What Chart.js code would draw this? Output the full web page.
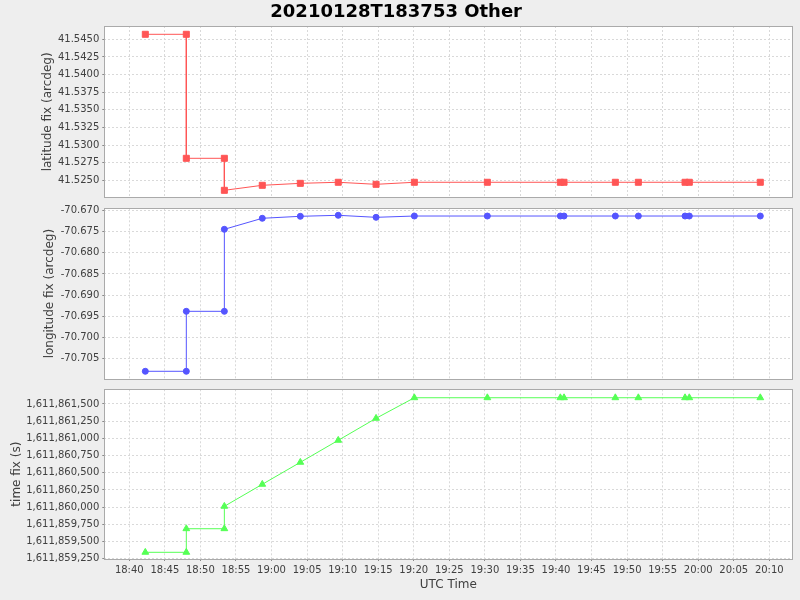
<!DOCTYPE html>
<html>
<head>
<meta charset="utf-8">
<script src="https://cdn.jsdelivr.net/npm/chart.js@4.4.1/dist/chart.umd.min.js"></script>
<style>
html,body{margin:0;padding:0;background:#eeeeee;}
#wrap{position:relative;width:800px;height:600px;background:#eeeeee;overflow:hidden;}
canvas{position:absolute;left:0;}
</style>
</head>
<body>
<div id="wrap">
<canvas id="cA" width="800" height="203" style="top:0px"></canvas>
<canvas id="cB" width="800" height="181" style="top:203px"></canvas>
<canvas id="cC" width="800" height="216" style="top:384px"></canvas>
</div>
<script>
// ---- data ----
const chartTitle = "20210128T183753 Other";
const obsTimes = ["18:42:15","18:48:01","18:48:01","18:53:22","18:53:22","18:58:42","19:04:03","19:09:23","19:14:42","19:20:05","19:30:21","19:40:37","19:41:08","19:48:21","19:51:35","19:58:09","19:58:45","20:08:44"];
const latitudeFix = [41.54571,41.54571,41.52812,41.52812,41.52358,41.52429,41.52457,41.52472,41.52443,41.52472,41.52472,41.52472,41.52472,41.52472,41.52472,41.52472,41.52472,41.52472];
const longitudeFix = [-70.70808,-70.70808,-70.69386,-70.69386,-70.67441,-70.67180,-70.67133,-70.67109,-70.67157,-70.67126,-70.67126,-70.67126,-70.67126,-70.67126,-70.67126,-70.67126,-70.67126,-70.67126];
const timeFix = [1611859343,1611859343,1611859686,1611859686,1611860012,1611860332,1611860652,1611860972,1611861292,1611861591,1611861591,1611861591,1611861591,1611861591,1611861591,1611861591,1611861591,1611861591];
const xTickLabels = ["18:40","18:45","18:50","18:55","19:00","19:05","19:10","19:15","19:20","19:25","19:30","19:35","19:40","19:45","19:50","19:55","20:00","20:05","20:10"];
const latTicks = [41.5250,41.5275,41.5300,41.5325,41.5350,41.5375,41.5400,41.5425,41.5450];
const lonTicks = [-70.705,-70.700,-70.695,-70.690,-70.685,-70.680,-70.675,-70.670];
const timeTicks = [1611859250,1611859500,1611859750,1611860000,1611860250,1611860500,1611860750,1611861000,1611861250,1611861500];

// ---- helpers ----
function toSec(s){const p=s.split(':').map(Number);return p[0]*3600+p[1]*60+(p[2]||0);}
function fmtHM(v){const h=Math.floor(v/3600),m=Math.round((v-h*3600)/60);return String(h).padStart(2,'0')+':'+String(m).padStart(2,'0');}
const xTickValues = xTickLabels.map(toSec);
const X_MIN = 66989, X_MAX = 72794;
const FONT = 'DejaVu Sans';
const GRID = '#d9d9d9';
const AXC = '#404040';

const frame = {
  id:'frame',
  beforeDraw(c){const a=c.chartArea,ctx=c.ctx;ctx.save();ctx.fillStyle='#ffffff';ctx.fillRect(a.left,a.top,a.right-a.left,a.bottom-a.top);ctx.restore();},
  afterDraw(c){const a=c.chartArea,ctx=c.ctx;ctx.save();ctx.strokeStyle='#aaaaaa';ctx.lineWidth=1;
    const l=Math.floor(a.left)+0.5,t=Math.floor(a.top)+0.5,r=Math.floor(a.right)+0.5,b=Math.floor(a.bottom)+0.5;
    ctx.strokeRect(l,t,r-l,b-t);ctx.restore();}
};

function xScale(showLabels){
  const s = {
    type:'linear', min:X_MIN, max:X_MAX,
    afterBuildTicks(sc){sc.ticks = xTickValues.map(v=>({value:v}));},
    grid:{color:GRID, drawTicks:showLabels, tickLength:2, tickColor:'#888888', tickBorderDash:[]},
    border:{display:false, dash:[2,2]},
    ticks:{display:showLabels, autoSkip:false, maxRotation:0, padding:3, color:AXC, font:{family:FONT,size:10}, callback:v=>fmtHM(v)}
  };
  if(showLabels){
    s.afterFit = sc=>{sc.height=41;sc.paddingLeft=0;sc.paddingRight=0;};
    s.title = {display:true, text:'UTC Time', color:AXC, font:{family:FONT,size:12}, padding:{top:4,bottom:7.5}};
  } else {
    s.afterFit = sc=>{sc.height=0;sc.paddingLeft=0;sc.paddingRight=0;};
  }
  return s;
}
function yScale(min,max,ticks,fmt,title,tpad){
  return {
    type:'linear', min:min, max:max,
    afterBuildTicks(sc){sc.ticks = ticks.map(v=>({value:v}));},
    afterFit(sc){sc.width=104.3;sc.paddingTop=0;sc.paddingBottom=0;},
    grid:{color:GRID, tickLength:2, tickColor:'#888888', tickBorderDash:[]},
    border:{display:false, dash:[2,2]},
    ticks:{autoSkip:false, padding:3, color:AXC, font:{family:FONT,size:10}, callback:fmt},
    title:{display:true, text:title, color:AXC, font:{family:FONT,size:12}, padding:{top:tpad,bottom:0}}
  };
}
function ds(vals,color,style,radius){
  return {
    data: obsTimes.map((t,i)=>({x:toSec(t), y:vals[i]})),
    borderColor:color, backgroundColor:color, borderWidth:1,
    pointStyle:style, pointRadius:radius, pointBorderWidth:1,
    pointBackgroundColor:color, pointBorderColor:color, tension:0, clip:false
  };
}
function makeChart(id,dataset,y,showX,pad,titleOn){
  return new Chart(document.getElementById(id),{
    type:'line',
    data:{datasets:[dataset]},
    options:{
      responsive:false, animation:false, events:[],
      layout:{padding:pad},
      scales:{x:xScale(showX), y:y},
      plugins:{
        legend:{display:false}, tooltip:{enabled:false},
        title: titleOn ? {display:true, text:chartTitle, color:'#000000', font:{family:FONT,size:18,weight:'bold'}, padding:{top:2,bottom:2.4}} : {display:false}
      }
    },
    plugins:[frame]
  });
}

makeChart('cA', ds(latitudeFix,'#ff5555','rect',4.25),
  yScale(41.522532,41.546887,latTicks,v=>Number(v).toFixed(4),'latitude fix (arcdeg)',41.1),
  false,{left:0,right:7.7,top:0,bottom:5.3},true);
makeChart('cB', ds(longitudeFix,'#5555ff','circle',3),
  yScale(-70.70991,-70.66943,lonTicks,v=>Number(v).toFixed(3),'longitude fix (arcdeg)',42.8),
  false,{left:0,right:7.7,top:5.3,bottom:5},false);
makeChart('cC', ds(timeFix,'#55ff55','triangle',3.9),
  yScale(1611859245.6,1611861713.8,timeTicks,v=>Number(v).toLocaleString('en-US'),'time fix (s)',10),
  true,{left:0,right:7.7,top:5.3,bottom:0},false);
</script>
</body>
</html>
